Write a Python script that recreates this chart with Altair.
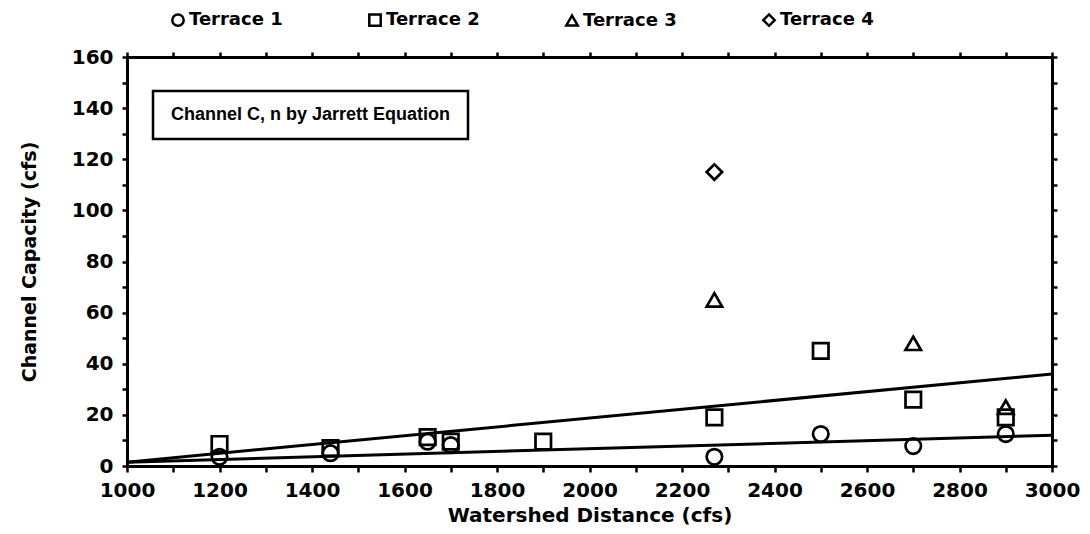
import altair as alt
import pandas as pd

# ---- data ----
distance = [1200, 1440, 1650, 1700, 1900, 2270, 2500, 2700, 2900]
terrace1 = [3.6, 5.0, 9.5, 8.2, None, 3.6, 12.5, 7.8, 12.5]
terrace2 = [8.6, 7.0, 11.3, 9.5, 9.5, 19.0, 45.0, 26.0, 19.0]
terrace3 = [None, None, None, None, None, 65.0, None, 48.0, 23.0]
terrace4 = [None, None, None, None, None, 115.0, None, None, None]
series_names = ["Terrace 1", "Terrace 2", "Terrace 3", "Terrace 4"]
series_shapes = ["circle", "square", "triangle-up", "diamond"]

fit_x = [1000, 3000]
fit_upper = [1.5, 36.0]
fit_lower = [1.5, 12.0]

x_ticks = list(range(1000, 3001, 100))
y_ticks = list(range(0, 161, 10))
note_text = "Channel C, n by Jarrett Equation"

# ---- tables ----
rows = []
for name, vals in zip(series_names, [terrace1, terrace2, terrace3, terrace4]):
    for d, v in zip(distance, vals):
        if v is not None:
            rows.append({"distance": d, "capacity": v, "terrace": name})
pts = pd.DataFrame(rows)

lines = pd.DataFrame(
    [{"distance": x, "capacity": y, "fit": "upper"} for x, y in zip(fit_x, fit_upper)]
    + [{"distance": x, "capacity": y, "fit": "lower"} for x, y in zip(fit_x, fit_lower)]
)

FONT = "DejaVu Sans"
W, H = 925, 409

xscale = alt.Scale(domain=[1000, 3000], nice=False, zero=False)
yscale = alt.Scale(domain=[0, 160], nice=False, zero=True)

common_axis = dict(
    domainColor="black", domainWidth=3, tickColor="black", tickWidth=2.5,
    labelFont=FONT, labelFontWeight="bold", labelColor="black",
    titleFont=FONT, titleFontWeight="bold", titleColor="black", grid=False,
)

x_axis = alt.Axis(
    values=x_ticks, format="d", tickSize=6, labelFontSize=20, labelPadding=8,
    labelExpr="datum.value % 200 == 0 ? datum.label : ''",
    title="Watershed Distance (cfs)", titleFontSize=20, titlePadding=5,
    labelFlush=False, labelOverlap=False, **common_axis,
)
y_axis = alt.Axis(
    values=y_ticks, format="d", tickSize=5, labelFontSize=20, labelPadding=9,
    labelExpr="datum.value % 20 == 0 ? datum.label : ''",
    title="Channel Capacity (cfs)", titleFontSize=19, titleX=-88,
    labelFlush=False, labelOverlap=False, **common_axis,
)
x_top = alt.Axis(orient="top", values=x_ticks, labels=False, title=None, tickSize=5, **common_axis)
y_right = alt.Axis(orient="right", values=y_ticks, labels=False, title=None, tickSize=5, **common_axis)

fit_layer = alt.Chart(lines).mark_line(color="black", strokeWidth=3).encode(
    x=alt.X("distance:Q", scale=xscale, axis=x_axis),
    y=alt.Y("capacity:Q", scale=yscale, axis=y_axis),
    detail="fit:N",
)

mirror_layer = alt.Chart(lines).mark_line(opacity=0).encode(
    x=alt.X("distance:Q", scale=xscale, axis=x_top),
    y=alt.Y("capacity:Q", scale=yscale, axis=y_right),
    detail="fit:N",
)

point_layer = alt.Chart(pts).mark_point(
    filled=False, color="black", strokeWidth=2.7, opacity=1, size=240
).encode(
    x=alt.X("distance:Q", scale=xscale, axis=None),
    y=alt.Y("capacity:Q", scale=yscale, axis=None),
    shape=alt.Shape(
        "terrace:N",
        scale=alt.Scale(domain=series_names, range=series_shapes),
        legend=alt.Legend(
            orient="none", legendX=42, legendY=-46, direction="horizontal",
            title=None, labelFont=FONT, labelFontWeight="bold", labelFontSize=18,
            labelColor="black", symbolSize=130, symbolStrokeWidth=2.5,
            symbolStrokeColor="black", symbolFillColor="white",
            columnPadding=81, labelOffset=2, padding=0,
        ),
    ),
)

box_layer = alt.Chart(pd.DataFrame({"t": [note_text]})).mark_rect(
    fill="white", stroke="black", strokeWidth=2.5
).encode(
    x=alt.value(26), x2=alt.value(341), y=alt.value(34), y2=alt.value(82)
)

text_layer = alt.Chart(pd.DataFrame({"t": [note_text]})).mark_text(
    font="Liberation Sans", fontWeight="bold", fontSize=18, color="black",
    align="center", baseline="middle",
).encode(
    x=alt.value(183.5), y=alt.value(58), text="t:N"
)

chart = (
    alt.layer(fit_layer, mirror_layer, point_layer, box_layer, text_layer)
    .resolve_axis(x="independent", y="independent")
    .properties(
        width=W, height=H,
        autosize=alt.AutoSizeParams(type="none"),
        padding={"left": 119, "top": 49, "right": 30, "bottom": 60},
    )
    .configure_view(stroke=None)
    .configure(background="white")
)

chart.save("out.html", embed_options={"renderer": "svg", "actions": False})
